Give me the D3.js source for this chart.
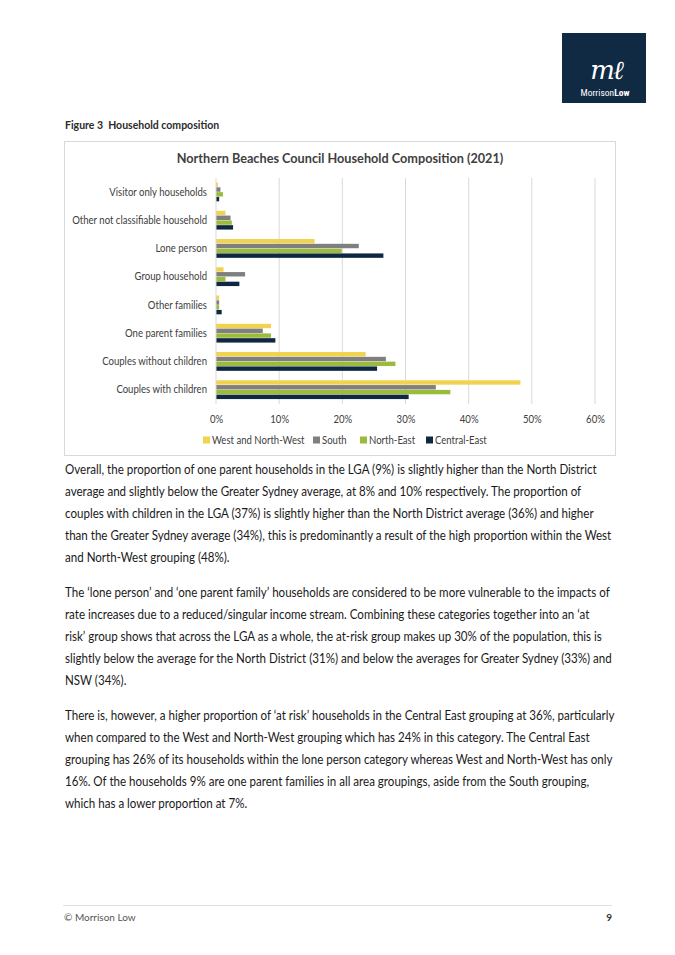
<!DOCTYPE html>
<html>
<head>
<meta charset="utf-8">
<script src="https://cdn.jsdelivr.net/npm/d3@7/dist/d3.min.js"></script>
<style>
html,body{margin:0;padding:0;background:#fff;}
svg{display:block;}
</style>
</head>
<body>
<svg id="page" width="675" height="955"></svg>
<script>
// ---- Data ----
const categories = [
  "Visitor only households",
  "Other not classifiable household",
  "Lone person",
  "Group household",
  "Other families",
  "One parent families",
  "Couples without children",
  "Couples with children"
];
const seriesNames = ["West and North-West", "South", "North-East", "Central-East"];
const westNorthWest = [0.3, 1.5, 15.6, 1.2, 0.5, 8.7, 23.7, 48.2];
const south         = [0.7, 2.3, 22.6, 4.6, 0.5, 7.4, 26.9, 34.8];
const northEast     = [1.1, 2.5, 19.9, 1.5, 0.5, 8.7, 28.4, 37.1];
const centralEast   = [0.5, 2.7, 26.5, 3.7, 0.9, 9.4, 25.5, 30.5];
const xTicks = [0, 10, 20, 30, 40, 50, 60];
const seriesColors = ["#f0d34f", "#7f7f7f", "#9bbb3c", "#0f2740"];

const para1 = [
"Overall, the proportion of one parent households in the LGA (9%) is slightly higher than the North District",
"average and slightly below the Greater Sydney average, at 8% and 10% respectively. The proportion of",
"couples with children in the LGA (37%) is slightly higher than the North District average (36%) and higher",
"than the Greater Sydney average (34%), this is predominantly a result of the high proportion within the West",
"and North-West grouping (48%)."
];
const para2 = [
"The \u2018lone person\u2019 and \u2018one parent family\u2019 households are considered to be more vulnerable to the impacts of",
"rate increases due to a reduced/singular income stream. Combining these categories together into an \u2018at",
"risk\u2019 group shows that across the LGA as a whole, the at-risk group makes up 30% of the population, this is",
"slightly below the average for the North District (31%) and below the averages for Greater Sydney (33%) and",
"NSW (34%)."
];
const para3 = [
"There is, however, a higher proportion of \u2018at risk\u2019 households in the Central East grouping at 36%, particularly",
"when compared to the West and North-West grouping which has 24% in this category. The Central East",
"grouping has 26% of its households within the lone person category whereas West and North-West has only",
"16%. Of the households 9% are one parent families in all area groupings, aside from the South grouping,",
"which has a lower proportion at 7%."
];

const seriesValues = [westNorthWest, south, northEast, centralEast];
const font = "Lato, 'Open Sans', sans-serif";
const svg = d3.select("#page");
const GROW = 1.1; // glyphs drawn taller, then compressed horizontally (Calibri-like proportions)

// helper: font size so that a string spans a given width
function fitSize(str, target, weight) {
  const t = svg.append("text").attr("font-family", font).attr("font-size", 12)
    .attr("font-weight", weight || "normal").text(str);
  const w = t.node().getComputedTextLength();
  t.remove();
  return 12 * target / w;
}
// condense a text selection: enlarge font by GROW, keep the original width
function condense(sel) {
  sel.each(function() {
    const n = this;
    const fs = parseFloat(d3.select(n).attr("font-size"));
    const w = n.getComputedTextLength();
    d3.select(n).attr("font-size", fs * GROW).attr("textLength", w).attr("lengthAdjust", "spacingAndGlyphs");
  });
}

// ---- Logo ----
const logo = svg.append("g");
logo.append("rect").attr("x", 562).attr("y", 33).attr("width", 84).attr("height", 70).attr("fill", "#112a44");
logo.append("text").attr("x", 606).attr("y", 79).attr("text-anchor", "middle")
  .attr("font-family", "'DejaVu Serif', serif").attr("font-style", "italic")
  .attr("font-size", 26).attr("fill", "#fff").attr("letter-spacing", -2).text("m\u2113");
const lt = logo.append("text").attr("x", 605).attr("y", 96).attr("text-anchor", "middle")
  .attr("font-family", "'Roboto Condensed', Roboto, sans-serif").attr("font-size", 9.5).attr("fill", "#fff");
lt.append("tspan").text("Morrison");
lt.append("tspan").attr("font-weight", "bold").text("Low");

// ---- Figure caption ----
svg.append("text").attr("x", 65).attr("y", 129).attr("font-family", font)
  .attr("font-weight", "bold").attr("font-size", 10.5).attr("fill", "#2b2b2b")
  .text("Figure 3\u00a0\u00a0Household composition").call(condense);

// ---- Chart box ----
svg.append("rect").attr("x", 64.5).attr("y", 141.5).attr("width", 551).attr("height", 314)
  .attr("fill", "#fff").attr("stroke", "#d9d9d9").attr("stroke-width", 1);

const titleText = "Northern Beaches Council Household Composition (2021)";
svg.append("text").attr("x", 340).attr("y", 163).attr("text-anchor", "middle")
  .attr("font-family", font).attr("font-weight", "bold").attr("font-size", fitSize(titleText, 327, "bold"))
  .attr("fill", "#404040").text(titleText).call(condense);

const x = d3.scaleLinear().domain([0, 60]).range([216, 595]);
const y = d3.scaleBand().domain(categories).range([178, 404]).paddingInner(0.32).paddingOuter(0.16);
const yInner = d3.scaleBand().domain(seriesNames).range([0, y.bandwidth()]);

const labelSize = fitSize("Other not classifiable household", 135);

const plot = svg.append("g");
// gridlines
plot.selectAll("line.grid").data(xTicks.slice(1)).join("line")
  .attr("x1", d => x(d)).attr("x2", d => x(d)).attr("y1", 178).attr("y2", 404)
  .attr("stroke", "#d9d9d9").attr("stroke-width", 1);

// bars
seriesNames.forEach((s, si) => {
  plot.append("g").selectAll("rect").data(categories).join("rect")
    .attr("x", x(0))
    .attr("y", c => y(c) + yInner(s))
    .attr("width", (c, i) => x(seriesValues[si][i]) - x(0))
    .attr("height", yInner.bandwidth() - 0.4)
    .attr("fill", seriesColors[si]);
});

// axis line
plot.append("line").attr("x1", x(0)).attr("x2", x(0)).attr("y1", 178).attr("y2", 404)
  .attr("stroke", "#d9d9d9");

// y axis labels
const yAxis = d3.axisLeft(y).tickSize(0).tickPadding(9);
const ya = svg.append("g").attr("transform", `translate(${x(0)},0)`).call(yAxis);
ya.select(".domain").remove();
ya.selectAll("text").attr("font-family", font).attr("font-size", labelSize).attr("fill", "#404040").call(condense);

// x axis labels
const xAxis = d3.axisBottom(x).tickValues(xTicks).tickFormat(d => d + "%").tickSize(0).tickPadding(12);
const xa = svg.append("g").attr("transform", `translate(0,404)`).call(xAxis);
xa.select(".domain").remove();
xa.selectAll("text").attr("font-family", font).attr("font-size", labelSize).attr("fill", "#404040").call(condense);

// legend
const legendX = [203, 313, 360, 426];
const lg = svg.append("g");
seriesNames.forEach((s, i) => {
  lg.append("rect").attr("x", legendX[i]).attr("y", 436.5).attr("width", 7).attr("height", 7).attr("fill", seriesColors[i]);
  lg.append("text").attr("x", legendX[i] + 9).attr("y", 444).attr("font-family", font)
    .attr("font-size", labelSize).attr("fill", "#404040").text(s).call(condense);
});

// ---- Body text ----
const paras = [[para1, 474], [para2, 597], [para3, 720]];
const body = svg.append("g").attr("font-family", font).attr("fill", "#1a1a1a");
const fs = fitSize(para1[3], 547);
paras.forEach(([lines, y0]) => {
  lines.forEach((l, i) => {
    body.append("text").attr("x", 65).attr("y", y0 + i * 22).attr("font-size", fs).text(l).call(condense);
  });
});

// ---- Footer ----
svg.append("line").attr("x1", 63).attr("x2", 612).attr("y1", 905.5).attr("y2", 905.5).attr("stroke", "#e0e0e0");
svg.append("text").attr("x", 64).attr("y", 921).attr("font-family", font).attr("font-size", 10)
  .attr("fill", "#555").text("\u00a9 Morrison Low");
svg.append("text").attr("x", 612).attr("y", 921).attr("text-anchor", "end").attr("font-family", font)
  .attr("font-size", 10).attr("font-weight", "bold").attr("fill", "#333").text("9");
</script>
</body>
</html>
